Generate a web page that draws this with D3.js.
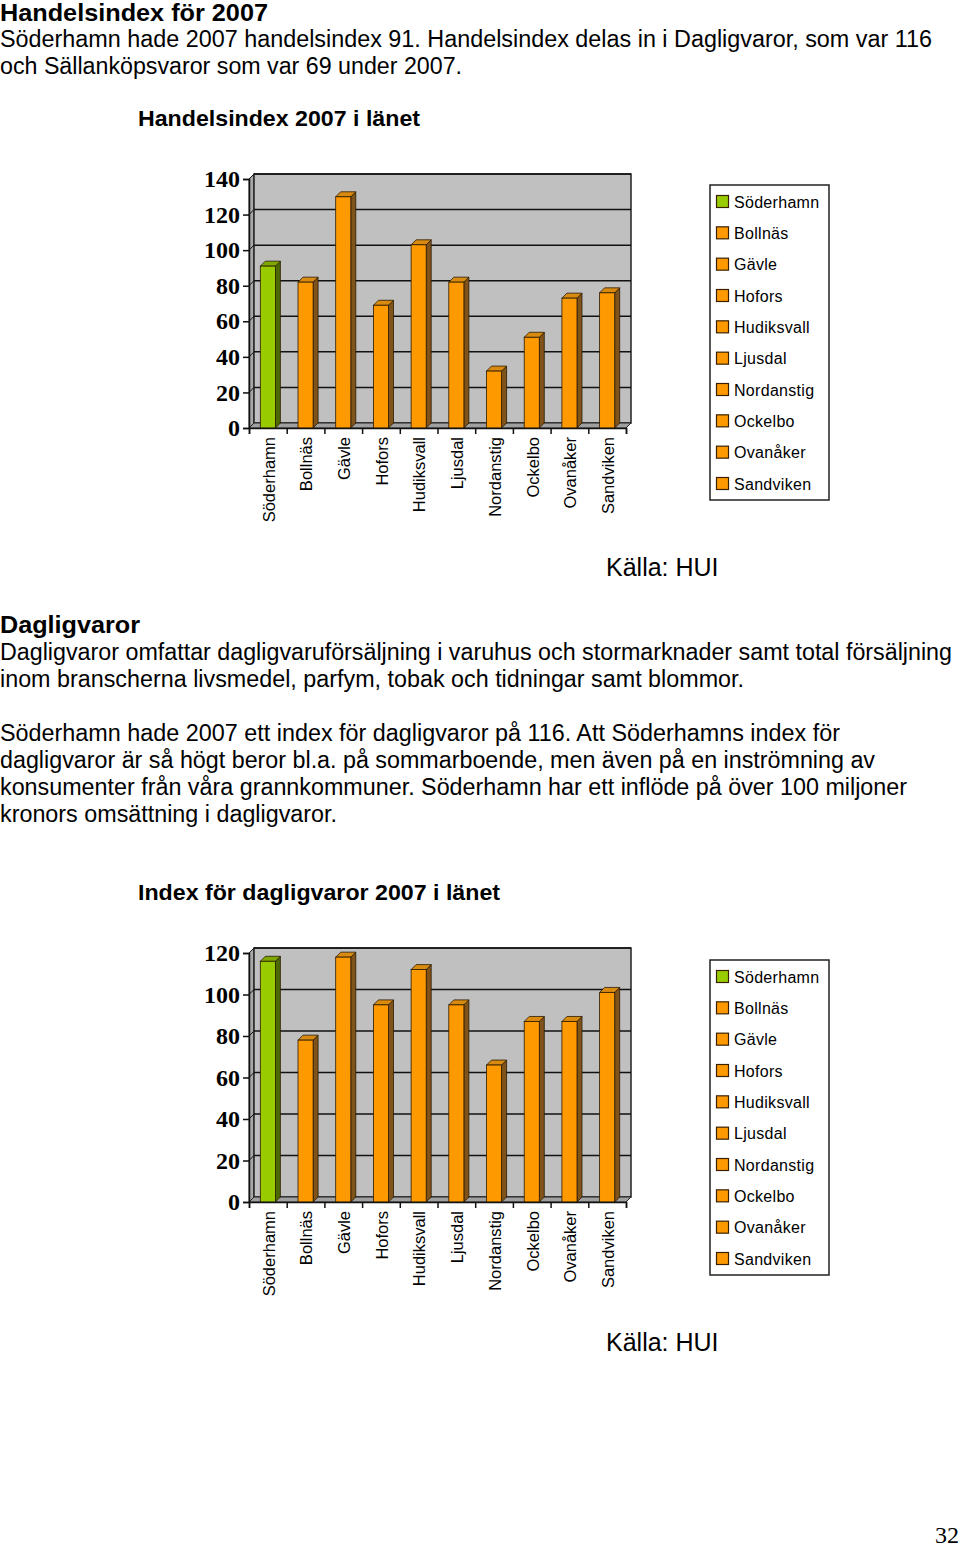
<!DOCTYPE html>
<html>
<head>
<meta charset="utf-8">
<script src="https://cdn.jsdelivr.net/npm/d3@7"></script>
<style>
html,body{margin:0;padding:0;background:#fff;}
svg{display:block;}
</style>
</head>
<body>
<svg id="page" width="960" height="1550"></svg>
<script>
// ---------- DATA ----------
const categories = ["Söderhamn","Bollnäs","Gävle","Hofors","Hudiksvall","Ljusdal","Nordanstig","Ockelbo","Ovanåker","Sandviken"];
const handelsindex = [91, 82, 130, 69, 103, 82, 32, 51, 73, 76];
const dagligvaror = [116, 78, 118, 95, 112, 95, 66, 87, 87, 101];
const ticks1 = [0, 20, 40, 60, 80, 100, 120, 140];
const ticks2 = [0, 20, 40, 60, 80, 100, 120];
const highlight = "Söderhamn";

const heading1 = "Handelsindex för 2007";
const para1 = [
  "Söderhamn hade 2007 handelsindex 91. Handelsindex delas in i Dagligvaror, som var 116",
  "och Sällanköpsvaror som var 69 under 2007."
];
const chartTitle1 = "Handelsindex 2007 i länet";
const source = "Källa: HUI";
const heading2 = "Dagligvaror";
const para2 = [
  "Dagligvaror omfattar dagligvaruförsäljning i varuhus och stormarknader samt total försäljning",
  "inom branscherna livsmedel, parfym, tobak och tidningar samt blommor.",
  "",
  "Söderhamn hade 2007 ett index för dagligvaror på 116. Att Söderhamns index för",
  "dagligvaror är så högt beror bl.a. på sommarboende, men även på en inströmning av",
  "konsumenter från våra grannkommuner. Söderhamn har ett inflöde på över 100 miljoner",
  "kronors omsättning i dagligvaror."
];
const chartTitle2 = "Index för dagligvaror 2007 i länet";
const pageNumber = "32";

// ---------- DRAW ----------
const svg = d3.select("#page");
const sans = "'Liberation Sans', Arial, sans-serif";
const serif = "'Liberation Serif', 'Times New Roman', serif";

function textLine(x, y, str, size, weight, len) {
  const t = svg.append("text")
    .attr("x", x).attr("y", y)
    .attr("font-family", sans)
    .attr("font-size", size)
    .attr("font-weight", weight)
    .attr("fill", "#000")
    .text(str);
  if (len) t.attr("textLength", len).attr("lengthAdjust", "spacingAndGlyphs");
  return t;
}

// text blocks
textLine(0, 21, heading1, 23, "bold", 268);
const p1Len = [932, 462];
para1.forEach((s, i) => textLine(0, 47 + i * 27, s, 23, "normal", p1Len[i]));
textLine(0, 633, heading2, 24, "bold", 140);
const p2Len = [952, 744, 0, 840, 875, 907, 337];
para2.forEach((s, i) => { if (s) textLine(0, 660 + i * 27, s, 23, "normal", p2Len[i]); });

svg.append("text").attr("x", 959).attr("y", 1543).attr("text-anchor", "end")
  .attr("font-family", serif).attr("font-size", 24).text(pageNumber);

function drawChart(cfg) {
  const g = svg.append("g");
  const x0 = 249, x1 = 626, yB = cfg.yBottom, yT = cfg.yBottom - 249, d = 5;

  // title
  g.append("text").attr("x", 138).attr("y", cfg.titleY)
    .attr("font-family", sans).attr("font-size", 22).attr("font-weight", "bold")
    .attr("textLength", cfg.titleLen).attr("lengthAdjust", "spacingAndGlyphs")
    .text(cfg.title);

  const y = d3.scaleLinear().domain([0, cfg.max]).range([yB, yT]);
  const xb = d3.scaleBand().domain(categories).range([x0, x1]).paddingInner(0.6).paddingOuter(0.3);
  const xl = d3.scaleLinear().domain([0, categories.length]).range([x0, x1]);

  // left wall
  g.append("polygon")
    .attr("points", [[x0, yB], [x0, yT], [x0 + d, yT - d], [x0 + d, yB - d]].map(p => p.join(",")).join(" "))
    .attr("fill", "#a8a8a8").attr("stroke", "#222").attr("stroke-width", 1);
  // back wall
  g.append("rect").attr("x", x0 + d).attr("y", yT - d).attr("width", x1 - x0).attr("height", yB - yT)
    .attr("fill", "#c0c0c0").attr("stroke", "#222").attr("stroke-width", 1.5);
  // floor
  g.append("polygon")
    .attr("points", [[x0, yB], [x0 + d, yB - d], [x1 + d, yB - d], [x1, yB]].map(p => p.join(",")).join(" "))
    .attr("fill", "#a0a0a0").attr("stroke", "#222").attr("stroke-width", 1);

  // gridlines
  cfg.ticks.forEach(v => {
    if (v === 0) return;
    g.append("line").attr("x1", x0 + d).attr("x2", x1 + d)
      .attr("y1", y(v) - d).attr("y2", y(v) - d)
      .attr("stroke", "#111").attr("stroke-width", 1.5);
    g.append("line").attr("x1", x0).attr("x2", x0 + d)
      .attr("y1", y(v)).attr("y2", y(v) - d)
      .attr("stroke", "#111").attr("stroke-width", 1);
  });

  // bars
  const bars = g.selectAll("g.bar").data(categories.map((c, i) => ({ c, v: cfg.values[i] })))
    .enter().append("g");
  const bw = xb.bandwidth();
  bars.each(function (p) {
    const gg = d3.select(this);
    const isH = p.c === highlight;
    const front = isH ? "#99cc00" : "#ff9900";
    const top = isH ? "#7fa800" : "#d98a10";
    const side = isH ? "#4d6a00" : "#80531a";
    const bx = xb(p.c), by = y(p.v);
    gg.append("polygon")
      .attr("points", [[bx + bw, yB], [bx + bw, by], [bx + bw + d, by - d], [bx + bw + d, yB - d]].map(q => q.join(",")).join(" "))
      .attr("fill", side).attr("stroke", "#2a1a00").attr("stroke-width", 0.8);
    gg.append("polygon")
      .attr("points", [[bx, by], [bx + d, by - d], [bx + bw + d, by - d], [bx + bw, by]].map(q => q.join(",")).join(" "))
      .attr("fill", top).attr("stroke", "#2a1a00").attr("stroke-width", 0.8);
    gg.append("rect").attr("x", bx).attr("y", by).attr("width", bw).attr("height", yB - by)
      .attr("fill", front).attr("stroke", "#2a1a00").attr("stroke-width", 0.8);
  });

  // y axis
  const ya = g.append("g").attr("transform", `translate(${x0},0)`)
    .call(d3.axisLeft(y).tickValues(cfg.ticks).tickSize(6).tickPadding(3).tickFormat(d3.format("d")));
  ya.select(".domain").attr("stroke", "#111").attr("stroke-width", 1.5);
  ya.selectAll(".tick line").attr("stroke", "#111").attr("stroke-width", 1.5);
  ya.selectAll(".tick text").attr("font-family", serif).attr("font-size", 24)
    .attr("font-weight", "bold").attr("fill", "#000");

  // x axis ticks at category boundaries
  const xa = g.append("g").attr("transform", `translate(0,${yB})`)
    .call(d3.axisBottom(xl).tickValues(d3.range(categories.length + 1)).tickSize(6).tickFormat(""));
  xa.select(".domain").attr("stroke", "#111").attr("stroke-width", 1.5);
  xa.selectAll(".tick line").attr("stroke", "#111").attr("stroke-width", 1.5);

  // category labels
  g.selectAll("text.cat").data(categories).enter().append("text")
    .attr("transform", c => `translate(${xb(c) + bw / 2 + 1},${yB + 9}) rotate(-90)`)
    .attr("text-anchor", "end").attr("dy", "0.35em")
    .attr("font-family", sans).attr("font-size", 16.5).attr("fill", "#000")
    .text(c => c);

  // legend
  const lg = g.append("g");
  lg.append("rect").attr("x", 710).attr("y", cfg.legendY).attr("width", 119).attr("height", 315)
    .attr("fill", "#fff").attr("stroke", "#222").attr("stroke-width", 1.5);
  const ly = d3.scalePoint().domain(categories).range([cfg.legendY + 17, cfg.legendY + 299]);
  categories.forEach(c => {
    lg.append("rect").attr("x", 716.5).attr("y", ly(c) - 6.5).attr("width", 12).attr("height", 12)
      .attr("fill", c === highlight ? "#99cc00" : "#ff9900").attr("stroke", "#3a2000").attr("stroke-width", 1.2);
    lg.append("text").attr("x", 734).attr("y", ly(c)).attr("dy", "0.36em")
      .attr("font-family", sans).attr("font-size", 16).attr("letter-spacing", 0.3).attr("fill", "#000").text(c);
  });

  // source
  g.append("text").attr("x", 606).attr("y", cfg.sourceY)
    .attr("font-family", sans).attr("font-size", 25).attr("fill", "#000").text(source);
}

drawChart({ title: chartTitle1, titleY: 126, titleLen: 282, yBottom: 428, max: 140,
  ticks: ticks1, values: handelsindex, legendY: 185, sourceY: 576 });
drawChart({ title: chartTitle2, titleY: 900, titleLen: 362, yBottom: 1202, max: 120,
  ticks: ticks2, values: dagligvaror, legendY: 960, sourceY: 1351 });
</script>
</body>
</html>
